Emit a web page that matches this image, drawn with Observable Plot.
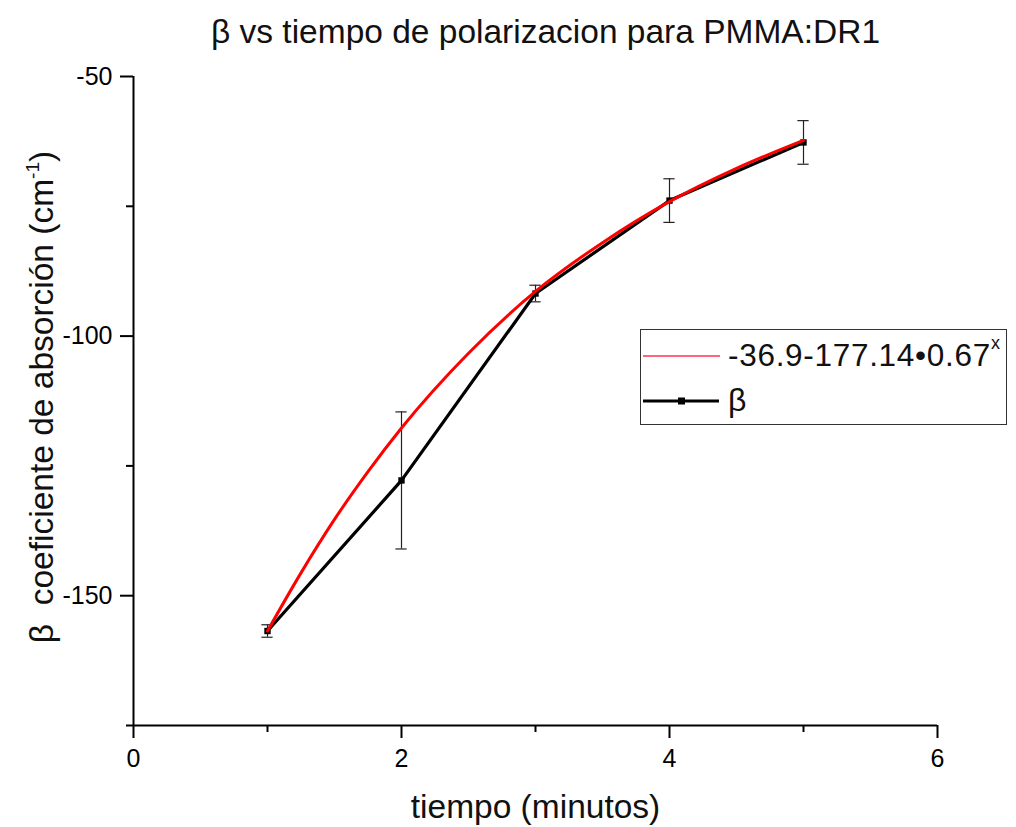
<!DOCTYPE html>
<html>
<head>
<meta charset="utf-8">
<script src="https://cdn.jsdelivr.net/npm/d3@7"></script>
<script src="https://cdn.jsdelivr.net/npm/@observablehq/plot@0.6"></script>
<style>
  html, body { margin: 0; padding: 0; background: white; }
  #wrap { position: relative; width: 1016px; height: 827px; font-family: "Liberation Sans", Arial, sans-serif; }
  #legend { position: absolute; left: 640px; top: 329px; width: 367px; height: 96px; border: 1.5px solid #333; box-sizing: border-box; background: white; }
</style>
</head>
<body>
<div id="wrap"></div>
<script>
// ---- data ----
const tiempo = [1, 2, 3, 4, 5];
const beta = [-156.8, -127.8, -91.8, -73.9, -62.7];
const betaErr = [1.2, 13.2, 1.6, 4.2, 4.2];

const ajusteT = [1, 1.25, 1.5, 1.75, 2, 2.5, 3, 3.5, 4, 4.5, 5];
const ajusteBeta = [-156.8, -145.6, -135.3, -126.1, -117.7, -103.3, -91.4, -82.0, -74.1, -67.7, -62.3];

const xTicks = [0, 2, 4, 6];
const xMinorTicks = [1, 3, 5];
const yTicks = [-50, -100, -150];
const yMinorTicks = [-75, -125, -175];

const titulo = "β vs tiempo de polarizacion para PMMA:DR1";
const xLabel = "tiempo (minutos)";
const yLabel = "β  coeficiente de absorción (cm";
const ajusteLabel = "-36.9-177.14•0.67";
const serieLabel = "β";

// ---- tables ----
const puntos = tiempo.map((t, i) => ({t, b: beta[i], lo: beta[i] - betaErr[i], hi: beta[i] + betaErr[i]}));
const ajuste = ajusteT.map((t, i) => ({t, b: ajusteBeta[i]}));
const capW = 0.042;

const font = "'Liberation Sans', Arial, sans-serif";

const chart = Plot.plot({
  width: 1016,
  height: 827,
  marginLeft: 133,
  marginRight: 79,
  marginTop: 76,
  marginBottom: 102,
  x: {domain: [0, 6]},
  y: {domain: [-175, -50]},
  style: {fontFamily: font, background: "white", color: "black", overflow: "visible"},
  marks: [
    Plot.axisX(xTicks, {tickSize: 13, strokeWidth: 2, fontSize: 25, tickPadding: 11, tickFormat: d => String(d), label: null}),
    Plot.axisX(xMinorTicks, {tickSize: 7, strokeWidth: 2, tickFormat: () => "", label: null}),
    Plot.axisY(yTicks, {tickSize: 13, strokeWidth: 2, fontSize: 25, tickPadding: 8, tickFormat: d => String(d), label: null}),
    Plot.axisY(yMinorTicks, {tickSize: 7, strokeWidth: 2, tickFormat: () => "", label: null}),
    Plot.ruleY([-175], {stroke: "black", strokeWidth: 2}),
    Plot.ruleX([0], {stroke: "black", strokeWidth: 2}),
    // error bars
    Plot.ruleX(puntos, {x: "t", y1: "lo", y2: "hi", stroke: "#222", strokeWidth: 1.2}),
    Plot.ruleY(puntos, {y: "lo", x1: d => d.t - capW, x2: d => d.t + capW, stroke: "#222", strokeWidth: 1.2}),
    Plot.ruleY(puntos, {y: "hi", x1: d => d.t - capW, x2: d => d.t + capW, stroke: "#222", strokeWidth: 1.2}),
    // data line
    Plot.line(puntos, {x: "t", y: "b", stroke: "black", strokeWidth: 3.2}),
    Plot.dot(puntos, {x: "t", y: "b", symbol: "square", r: 3.6, fill: "black", stroke: "none"}),
    // fit
    Plot.line(ajuste, {x: "t", y: "b", stroke: "#ff0000", strokeWidth: 3, curve: "monotone-x"}),
    // texts
    Plot.text([titulo], {frameAnchor: "top", dx: 10, dy: -34, lineAnchor: "bottom", fontSize: 33.5, fill: "#111"}),
    Plot.text([xLabel], {frameAnchor: "bottom", dy: 92, lineAnchor: "bottom", fontSize: 33.5, fill: "#111"})
  ]
});

const wrap = document.getElementById("wrap");
wrap.appendChild(chart);

// y label (rotated) with superscript
const svgNS = "http://www.w3.org/2000/svg";
const yl = document.createElementNS(svgNS, "text");
yl.setAttribute("transform", "translate(53,397) rotate(-90)");
yl.setAttribute("text-anchor", "middle");
yl.setAttribute("font-size", "33.5");
yl.setAttribute("font-family", "Liberation Sans, Arial, sans-serif");
yl.setAttribute("fill", "#111");
yl.setAttribute("xml:space", "preserve");
const t1 = document.createElementNS(svgNS, "tspan");
t1.textContent = yLabel;
const t2 = document.createElementNS(svgNS, "tspan");
t2.setAttribute("font-size", "19");
t2.setAttribute("dy", "-14");
t2.textContent = "-1";
const t3 = document.createElementNS(svgNS, "tspan");
t3.setAttribute("dy", "14");
t3.textContent = ")";
yl.appendChild(t1); yl.appendChild(t2); yl.appendChild(t3);
chart.appendChild(yl);

// legend
const legend = document.createElement("div");
legend.id = "legend";
legend.innerHTML = `
<svg width="367" height="96" xmlns="http://www.w3.org/2000/svg" style="display:block;position:absolute;left:-1.5px;top:-1.5px;font-family:'Liberation Sans', Arial, sans-serif">
  <line x1="3" x2="80" y1="27" y2="27" stroke="#ff3050" stroke-width="1.3"/>
  <text x="88" y="37" font-size="31.5" fill="#111" letter-spacing="0.7">${ajusteLabel}<tspan font-size="18" dy="-17">x</tspan></text>
  <line x1="3" x2="79" y1="72" y2="72" stroke="black" stroke-width="3"/>
  <rect x="38" y="68.5" width="7" height="7" fill="black"/>
  <text x="88" y="82" font-size="32" fill="#111">${serieLabel}</text>
</svg>`;
wrap.appendChild(legend);
</script>
</body>
</html>
